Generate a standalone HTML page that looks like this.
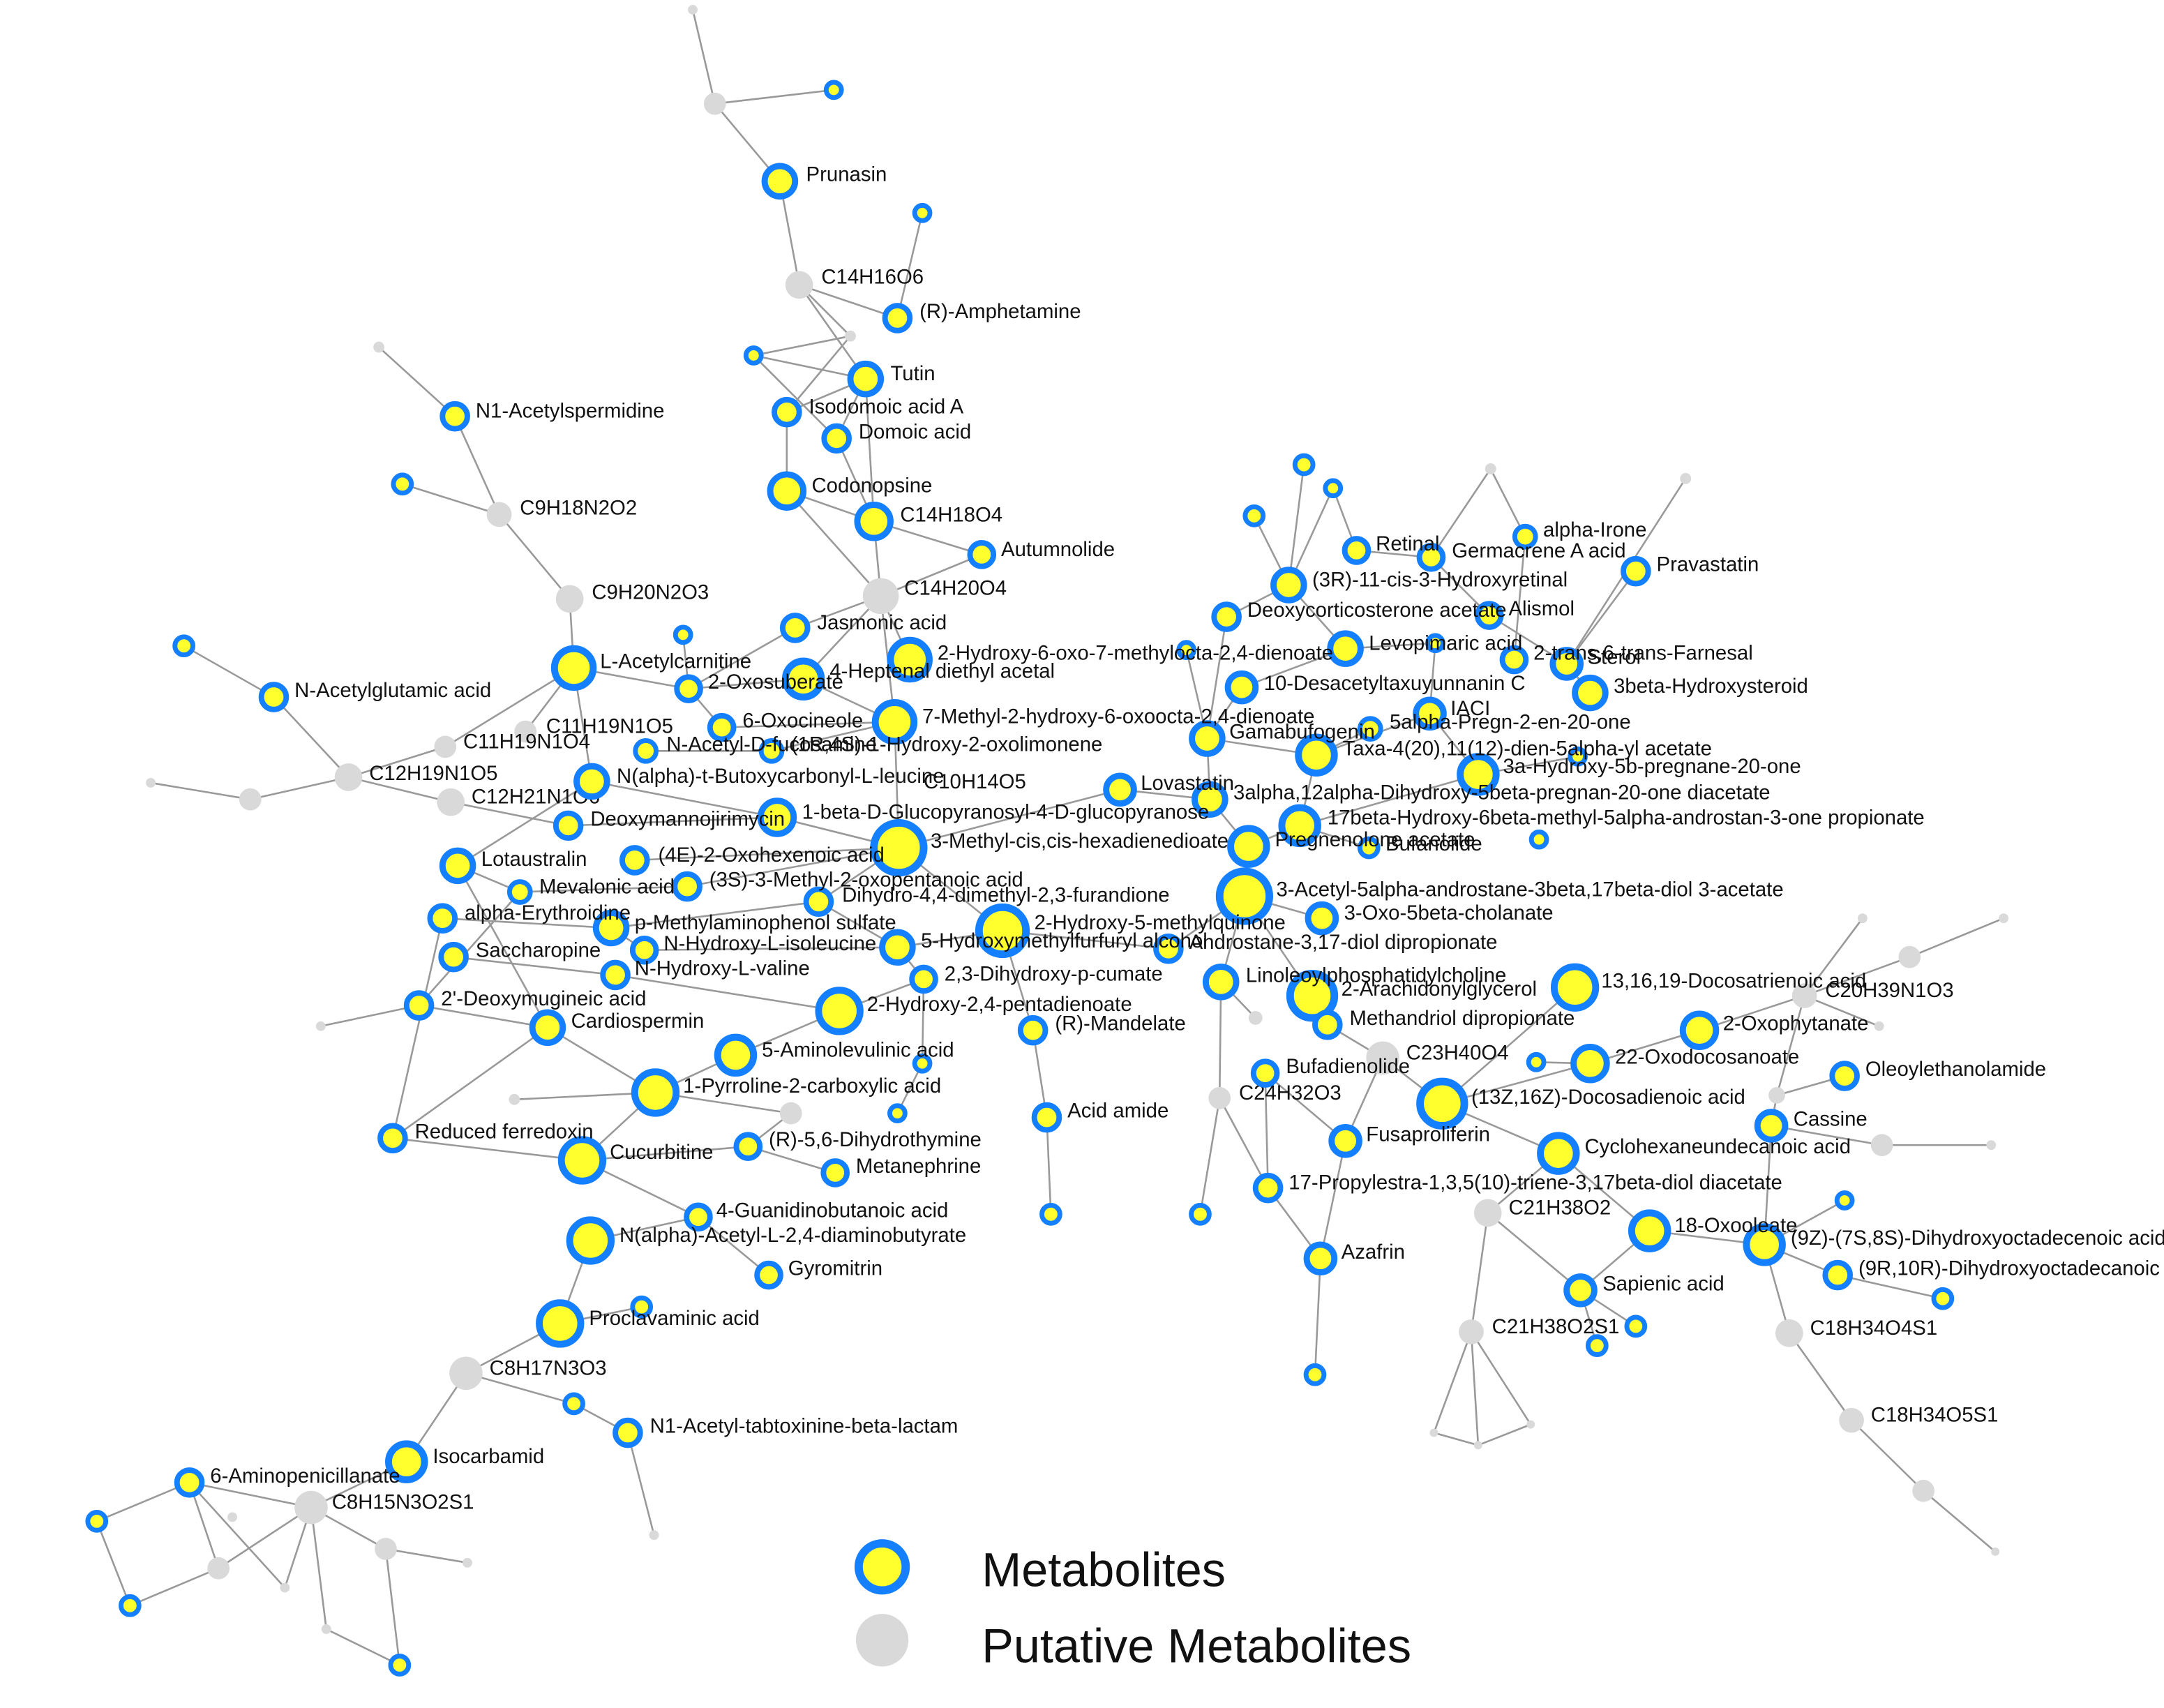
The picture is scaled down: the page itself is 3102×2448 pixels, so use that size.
<!DOCTYPE html>
<html><head><meta charset="utf-8"><style>
html,body{margin:0;padding:0;background:#fff;}
svg{display:block;}
text{font-family:"Liberation Sans",Arial,sans-serif;font-size:14.8px;fill:#111;}
.e line{stroke:#999;stroke-width:1.3;}
.g circle{fill:#d9d9d9;}
.y circle{fill:#ffff2e;stroke:#1580ff;}
</style></head><body>
<svg width="3102" height="2448" viewBox="0 0 1565 1235" xmlns="http://www.w3.org/2000/svg">
<g class="e">
<line x1="501" y1="7" x2="517" y2="75"/><line x1="517" y1="75" x2="564" y2="131"/><line x1="517" y1="75" x2="603" y2="65"/><line x1="564" y1="131" x2="578" y2="206"/><line x1="578" y1="206" x2="615" y2="243"/><line x1="578" y1="206" x2="626" y2="274"/><line x1="578" y1="206" x2="649" y2="230"/><line x1="615" y1="243" x2="545" y2="257"/><line x1="545" y1="257" x2="626" y2="274"/><line x1="545" y1="257" x2="605" y2="317"/><line x1="569" y1="298" x2="626" y2="274"/><line x1="615" y1="243" x2="569" y2="298"/><line x1="626" y1="274" x2="605" y2="317"/><line x1="569" y1="298" x2="569" y2="355"/><line x1="605" y1="317" x2="632" y2="377"/><line x1="569" y1="355" x2="632" y2="377"/><line x1="569" y1="355" x2="637" y2="431"/><line x1="632" y1="377" x2="637" y2="431"/><line x1="710" y1="401" x2="637" y2="431"/><line x1="632" y1="377" x2="710" y2="401"/><line x1="626" y1="274" x2="632" y2="377"/><line x1="667" y1="154" x2="649" y2="230"/><line x1="637" y1="431" x2="575" y2="454"/><line x1="637" y1="431" x2="658" y2="477"/><line x1="637" y1="431" x2="581" y2="491"/><line x1="637" y1="431" x2="647" y2="522"/><line x1="575" y1="454" x2="498" y2="498"/><line x1="274" y1="251" x2="329" y2="301"/><line x1="329" y1="301" x2="361" y2="372"/><line x1="291" y1="350" x2="361" y2="372"/><line x1="361" y1="372" x2="412" y2="433"/><line x1="412" y1="433" x2="415" y2="483"/><line x1="133" y1="467" x2="198" y2="504"/><line x1="198" y1="504" x2="252" y2="562"/><line x1="109" y1="566" x2="181" y2="578"/><line x1="181" y1="578" x2="252" y2="562"/><line x1="252" y1="562" x2="322" y2="540"/><line x1="252" y1="562" x2="326" y2="580"/><line x1="322" y1="540" x2="415" y2="483"/><line x1="380" y1="529" x2="415" y2="483"/><line x1="415" y1="483" x2="498" y2="498"/><line x1="415" y1="483" x2="428" y2="565"/><line x1="498" y1="498" x2="581" y2="491"/><line x1="494" y1="459" x2="498" y2="498"/><line x1="498" y1="498" x2="522" y2="526"/><line x1="581" y1="491" x2="647" y2="522"/><line x1="522" y1="526" x2="647" y2="522"/><line x1="467" y1="543" x2="558" y2="543"/><line x1="558" y1="543" x2="647" y2="522"/><line x1="428" y1="565" x2="562" y2="591"/><line x1="326" y1="580" x2="411" y2="597"/><line x1="411" y1="597" x2="562" y2="591"/><line x1="562" y1="591" x2="650" y2="613"/><line x1="647" y1="522" x2="650" y2="613"/><line x1="459" y1="622" x2="650" y2="613"/><line x1="497" y1="641" x2="650" y2="613"/><line x1="331" y1="626" x2="376" y2="645"/><line x1="376" y1="645" x2="497" y2="641"/><line x1="320" y1="664" x2="442" y2="671"/><line x1="442" y1="671" x2="592" y2="652"/><line x1="592" y1="652" x2="650" y2="613"/><line x1="592" y1="652" x2="649" y2="685"/><line x1="442" y1="671" x2="466" y2="687"/><line x1="466" y1="687" x2="649" y2="685"/><line x1="328" y1="692" x2="445" y2="705"/><line x1="445" y1="705" x2="607" y2="731"/><line x1="649" y1="685" x2="725" y2="673"/><line x1="725" y1="673" x2="650" y2="613"/><line x1="725" y1="673" x2="845" y2="686"/><line x1="668" y1="708" x2="649" y2="685"/><line x1="607" y1="731" x2="668" y2="708"/><line x1="607" y1="731" x2="532" y2="763"/><line x1="532" y1="763" x2="474" y2="790"/><line x1="474" y1="790" x2="421" y2="839"/><line x1="474" y1="790" x2="396" y2="743"/><line x1="396" y1="743" x2="303" y2="727"/><line x1="232" y1="742" x2="303" y2="727"/><line x1="396" y1="743" x2="284" y2="823"/><line x1="372" y1="795" x2="474" y2="790"/><line x1="284" y1="823" x2="421" y2="839"/><line x1="421" y1="839" x2="541" y2="829"/><line x1="474" y1="790" x2="572" y2="805"/><line x1="572" y1="805" x2="541" y2="829"/><line x1="541" y1="829" x2="604" y2="848"/><line x1="421" y1="839" x2="505" y2="880"/><line x1="505" y1="880" x2="427" y2="897"/><line x1="505" y1="880" x2="556" y2="922"/><line x1="427" y1="897" x2="405" y2="957"/><line x1="405" y1="957" x2="464" y2="945"/><line x1="405" y1="957" x2="337" y2="993"/><line x1="337" y1="993" x2="294" y2="1057"/><line x1="337" y1="993" x2="415" y2="1015"/><line x1="415" y1="1015" x2="454" y2="1036"/><line x1="454" y1="1036" x2="473" y2="1110"/><line x1="294" y1="1057" x2="225" y2="1090"/><line x1="225" y1="1090" x2="137" y2="1072"/><line x1="137" y1="1072" x2="70" y2="1100"/><line x1="70" y1="1100" x2="94" y2="1161"/><line x1="94" y1="1161" x2="158" y2="1134"/><line x1="158" y1="1134" x2="225" y2="1090"/><line x1="225" y1="1090" x2="279" y2="1120"/><line x1="279" y1="1120" x2="289" y2="1204"/><line x1="279" y1="1120" x2="338" y2="1130"/><line x1="225" y1="1090" x2="236" y2="1178"/><line x1="236" y1="1178" x2="289" y2="1204"/><line x1="137" y1="1072" x2="206" y2="1148"/><line x1="206" y1="1148" x2="225" y2="1090"/><line x1="137" y1="1072" x2="158" y2="1134"/><line x1="747" y1="745" x2="725" y2="673"/><line x1="747" y1="745" x2="757" y2="808"/><line x1="757" y1="808" x2="760" y2="878"/><line x1="667" y1="769" x2="668" y2="708"/><line x1="649" y1="805" x2="667" y2="769"/><line x1="331" y1="626" x2="396" y2="743"/><line x1="376" y1="645" x2="303" y2="727"/><line x1="320" y1="664" x2="284" y2="823"/><line x1="331" y1="626" x2="428" y2="565"/><line x1="810" y1="571" x2="650" y2="613"/>
<line x1="943" y1="336" x2="932" y2="423"/><line x1="964" y1="353" x2="932" y2="423"/><line x1="964" y1="353" x2="981" y2="398"/><line x1="907" y1="373" x2="932" y2="423"/><line x1="932" y1="423" x2="887" y2="446"/><line x1="932" y1="423" x2="973" y2="469"/><line x1="1078" y1="339" x2="1035" y2="403"/><line x1="1078" y1="339" x2="1103" y2="388"/><line x1="981" y1="398" x2="1035" y2="403"/><line x1="1035" y1="403" x2="1077" y2="445"/><line x1="1103" y1="388" x2="1095" y2="477"/><line x1="1219" y1="346" x2="1133" y2="480"/><line x1="1183" y1="413" x2="1133" y2="480"/><line x1="1077" y1="445" x2="1133" y2="480"/><line x1="1133" y1="480" x2="1150" y2="501"/><line x1="973" y1="469" x2="1038" y2="465"/><line x1="1038" y1="465" x2="1034" y2="516"/><line x1="973" y1="469" x2="898" y2="497"/><line x1="898" y1="497" x2="873" y2="534"/><line x1="858" y1="470" x2="873" y2="534"/><line x1="887" y1="446" x2="873" y2="534"/><line x1="873" y1="534" x2="875" y2="578"/><line x1="873" y1="534" x2="952" y2="546"/><line x1="952" y1="546" x2="1034" y2="516"/><line x1="991" y1="527" x2="952" y2="546"/><line x1="1034" y1="516" x2="1069" y2="560"/><line x1="1069" y1="560" x2="1141" y2="547"/><line x1="952" y1="546" x2="940" y2="597"/><line x1="810" y1="571" x2="875" y2="578"/><line x1="875" y1="578" x2="903" y2="612"/><line x1="940" y1="597" x2="903" y2="612"/><line x1="903" y1="612" x2="900" y2="648"/><line x1="940" y1="597" x2="990" y2="613"/><line x1="1069" y1="560" x2="940" y2="597"/><line x1="900" y1="648" x2="956" y2="664"/><line x1="900" y1="648" x2="845" y2="686"/><line x1="900" y1="648" x2="883" y2="710"/><line x1="883" y1="710" x2="908" y2="736"/><line x1="883" y1="710" x2="882" y2="794"/><line x1="949" y1="720" x2="900" y2="648"/><line x1="949" y1="720" x2="960" y2="741"/><line x1="960" y1="741" x2="1000" y2="765"/><line x1="1000" y1="765" x2="1043" y2="798"/><line x1="1043" y1="798" x2="1139" y2="714"/><line x1="1043" y1="798" x2="1127" y2="834"/><line x1="1043" y1="798" x2="1150" y2="769"/><line x1="1150" y1="769" x2="1229" y2="745"/><line x1="1229" y1="745" x2="1305" y2="720"/><line x1="1305" y1="720" x2="1381" y2="692"/><line x1="1381" y1="692" x2="1449" y2="664"/><line x1="1305" y1="720" x2="1347" y2="664"/><line x1="1305" y1="720" x2="1359" y2="742"/><line x1="1305" y1="720" x2="1285" y2="792"/><line x1="1285" y1="792" x2="1334" y2="778"/><line x1="1285" y1="792" x2="1281" y2="814"/><line x1="1281" y1="814" x2="1361" y2="828"/><line x1="1361" y1="828" x2="1440" y2="828"/><line x1="1127" y1="834" x2="1193" y2="890"/><line x1="1193" y1="890" x2="1276" y2="900"/><line x1="1276" y1="900" x2="1329" y2="922"/><line x1="1329" y1="922" x2="1405" y2="939"/><line x1="1276" y1="900" x2="1334" y2="868"/><line x1="1276" y1="900" x2="1281" y2="814"/><line x1="1276" y1="900" x2="1294" y2="964"/><line x1="1294" y1="964" x2="1339" y2="1027"/><line x1="1339" y1="1027" x2="1391" y2="1078"/><line x1="1391" y1="1078" x2="1443" y2="1122"/><line x1="1193" y1="890" x2="1143" y2="933"/><line x1="1076" y1="877" x2="1143" y2="933"/><line x1="1076" y1="877" x2="1127" y2="834"/><line x1="1076" y1="877" x2="1064" y2="963"/><line x1="1064" y1="963" x2="1037" y2="1036"/><line x1="1064" y1="963" x2="1069" y2="1045"/><line x1="1064" y1="963" x2="1107" y2="1030"/><line x1="1037" y1="1036" x2="1069" y2="1045"/><line x1="1069" y1="1045" x2="1107" y2="1030"/><line x1="1143" y1="933" x2="1183" y2="959"/><line x1="1143" y1="933" x2="1155" y2="973"/><line x1="1111" y1="768" x2="1150" y2="769"/><line x1="915" y1="776" x2="973" y2="825"/><line x1="882" y1="794" x2="868" y2="878"/><line x1="882" y1="794" x2="917" y2="859"/><line x1="917" y1="859" x2="955" y2="910"/><line x1="973" y1="825" x2="955" y2="910"/><line x1="955" y1="910" x2="951" y2="994"/><line x1="915" y1="776" x2="917" y2="859"/><line x1="1000" y1="765" x2="973" y2="825"/>
</g>
<g class="g">
<circle cx="501" cy="7" r="3.5"/><circle cx="517" cy="75" r="8"/><circle cx="578" cy="206" r="10"/><circle cx="615" cy="243" r="4"/><circle cx="274" cy="251" r="4"/><circle cx="361" cy="372" r="9"/><circle cx="412" cy="433" r="10"/><circle cx="637" cy="431" r="13"/><circle cx="322" cy="540" r="8"/><circle cx="380" cy="529" r="8"/><circle cx="252" cy="562" r="10"/><circle cx="181" cy="578" r="8"/><circle cx="109" cy="566" r="3.5"/><circle cx="326" cy="580" r="10"/><circle cx="1078" cy="339" r="4"/><circle cx="1219" cy="346" r="4"/><circle cx="1000" cy="765" r="12"/><circle cx="908" cy="736" r="5"/><circle cx="882" cy="794" r="8"/><circle cx="1076" cy="877" r="10"/><circle cx="1064" cy="963" r="9"/><circle cx="1037" cy="1036" r="3"/><circle cx="1069" cy="1045" r="3"/><circle cx="1107" cy="1030" r="3"/><circle cx="1294" cy="964" r="10"/><circle cx="1339" cy="1027" r="9"/><circle cx="1391" cy="1078" r="8"/><circle cx="1443" cy="1122" r="3"/><circle cx="1305" cy="720" r="9"/><circle cx="1381" cy="692" r="8"/><circle cx="1347" cy="664" r="3.5"/><circle cx="1449" cy="664" r="3.5"/><circle cx="1359" cy="742" r="3.5"/><circle cx="1285" cy="792" r="6"/><circle cx="1361" cy="828" r="8"/><circle cx="1440" cy="828" r="3.5"/><circle cx="572" cy="805" r="8"/><circle cx="372" cy="795" r="4"/><circle cx="232" cy="742" r="3.5"/><circle cx="337" cy="993" r="12"/><circle cx="225" cy="1090" r="12"/><circle cx="279" cy="1120" r="8"/><circle cx="158" cy="1134" r="8"/><circle cx="168" cy="1097" r="3.5"/><circle cx="338" cy="1130" r="3.5"/><circle cx="473" cy="1110" r="3.5"/><circle cx="236" cy="1178" r="3.5"/><circle cx="206" cy="1148" r="3.5"/>
</g>
<g>
<text x="594" y="205">C14H16O6</text><text x="376" y="372">C9H18N2O2</text><text x="428" y="433">C9H20N2O3</text><text x="654" y="430">C14H20O4</text><text x="395" y="530">C11H19N1O5</text><text x="335" y="541">C11H19N1O4</text><text x="267" y="564">C12H19N1O5</text><text x="341" y="581">C12H21N1O6</text><text x="668" y="570">C10H14O5</text><text x="1017" y="766">C23H40O4</text><text x="896" y="795">C24H32O3</text><text x="1091" y="878">C21H38O2</text><text x="1079" y="964">C21H38O2S1</text><text x="1309" y="965">C18H34O4S1</text><text x="1353" y="1028">C18H34O5S1</text><text x="1320" y="721">C20H39N1O3</text><text x="354" y="994">C8H17N3O3</text><text x="240" y="1091">C8H15N3O2S1</text>
</g>
<g class="y">
<circle cx="603" cy="65" r="5.5" stroke-width="3.5"/>
<circle cx="564" cy="131" r="11" stroke-width="4.5"/>
<circle cx="667" cy="154" r="5.5" stroke-width="3.5"/>
<circle cx="649" cy="230" r="9" stroke-width="4"/>
<circle cx="545" cy="257" r="5.5" stroke-width="3.5"/>
<circle cx="626" cy="274" r="11" stroke-width="4.5"/>
<circle cx="569" cy="298" r="9" stroke-width="4"/>
<circle cx="605" cy="317" r="9" stroke-width="4"/>
<circle cx="569" cy="355" r="12" stroke-width="4.5"/>
<circle cx="632" cy="377" r="12" stroke-width="4.5"/>
<circle cx="710" cy="401" r="8.5" stroke-width="4"/>
<circle cx="575" cy="454" r="9" stroke-width="4"/>
<circle cx="494" cy="459" r="5.5" stroke-width="3.5"/>
<circle cx="658" cy="477" r="14" stroke-width="5"/>
<circle cx="581" cy="491" r="13" stroke-width="5"/>
<circle cx="498" cy="498" r="8.5" stroke-width="4"/>
<circle cx="415" cy="483" r="14" stroke-width="5"/>
<circle cx="329" cy="301" r="9" stroke-width="4"/>
<circle cx="291" cy="350" r="6.5" stroke-width="3.5"/>
<circle cx="133" cy="467" r="6.5" stroke-width="3.5"/>
<circle cx="198" cy="504" r="9" stroke-width="4"/>
<circle cx="647" cy="522" r="14" stroke-width="5"/>
<circle cx="522" cy="526" r="8.5" stroke-width="4"/>
<circle cx="467" cy="543" r="7.5" stroke-width="3.5"/>
<circle cx="558" cy="543" r="7.5" stroke-width="3.5"/>
<circle cx="428" cy="565" r="11" stroke-width="4.5"/>
<circle cx="562" cy="591" r="12" stroke-width="4.5"/>
<circle cx="411" cy="597" r="9" stroke-width="4"/>
<circle cx="650" cy="613" r="18" stroke-width="5.5"/>
<circle cx="459" cy="622" r="9" stroke-width="4"/>
<circle cx="331" cy="626" r="11" stroke-width="4.5"/>
<circle cx="497" cy="641" r="9" stroke-width="4"/>
<circle cx="376" cy="645" r="7.5" stroke-width="3.5"/>
<circle cx="592" cy="652" r="9" stroke-width="4"/>
<circle cx="320" cy="664" r="9" stroke-width="4"/>
<circle cx="442" cy="671" r="11" stroke-width="4.5"/>
<circle cx="725" cy="673" r="17" stroke-width="5.5"/>
<circle cx="466" cy="687" r="8.5" stroke-width="4"/>
<circle cx="649" cy="685" r="11" stroke-width="4.5"/>
<circle cx="328" cy="692" r="9" stroke-width="4"/>
<circle cx="445" cy="705" r="9" stroke-width="4"/>
<circle cx="668" cy="708" r="8.5" stroke-width="4"/>
<circle cx="303" cy="727" r="9" stroke-width="4"/>
<circle cx="607" cy="731" r="15" stroke-width="5"/>
<circle cx="396" cy="743" r="11" stroke-width="4.5"/>
<circle cx="747" cy="745" r="9" stroke-width="4"/>
<circle cx="532" cy="763" r="13" stroke-width="5"/>
<circle cx="667" cy="769" r="5.5" stroke-width="3.5"/>
<circle cx="474" cy="790" r="15" stroke-width="5"/>
<circle cx="649" cy="805" r="5.5" stroke-width="3.5"/>
<circle cx="757" cy="808" r="9" stroke-width="4"/>
<circle cx="284" cy="823" r="9" stroke-width="4"/>
<circle cx="421" cy="839" r="15" stroke-width="5"/>
<circle cx="541" cy="829" r="8.5" stroke-width="4"/>
<circle cx="604" cy="848" r="8.5" stroke-width="4"/>
<circle cx="760" cy="878" r="6.5" stroke-width="3.5"/>
<circle cx="505" cy="880" r="8.5" stroke-width="4"/>
<circle cx="427" cy="897" r="15" stroke-width="5"/>
<circle cx="556" cy="922" r="8.5" stroke-width="4"/>
<circle cx="464" cy="945" r="6.5" stroke-width="3.5"/>
<circle cx="405" cy="957" r="15" stroke-width="5"/>
<circle cx="415" cy="1015" r="6.5" stroke-width="3.5"/>
<circle cx="454" cy="1036" r="9" stroke-width="4"/>
<circle cx="294" cy="1057" r="13" stroke-width="5"/>
<circle cx="137" cy="1072" r="9" stroke-width="4"/>
<circle cx="70" cy="1100" r="6.5" stroke-width="3.5"/>
<circle cx="94" cy="1161" r="6.5" stroke-width="3.5"/>
<circle cx="289" cy="1204" r="6.5" stroke-width="3.5"/>
<circle cx="943" cy="336" r="6.5" stroke-width="3.5"/>
<circle cx="964" cy="353" r="5.5" stroke-width="3.5"/>
<circle cx="907" cy="373" r="6.5" stroke-width="3.5"/>
<circle cx="981" cy="398" r="8.5" stroke-width="4"/>
<circle cx="1035" cy="403" r="8.5" stroke-width="4"/>
<circle cx="1103" cy="388" r="7.5" stroke-width="3.5"/>
<circle cx="1183" cy="413" r="9" stroke-width="4"/>
<circle cx="932" cy="423" r="11" stroke-width="4.5"/>
<circle cx="887" cy="446" r="9" stroke-width="4"/>
<circle cx="1077" cy="445" r="8.5" stroke-width="4"/>
<circle cx="973" cy="469" r="11" stroke-width="4.5"/>
<circle cx="1038" cy="465" r="5.5" stroke-width="3.5"/>
<circle cx="858" cy="470" r="5.5" stroke-width="3.5"/>
<circle cx="1095" cy="477" r="8.5" stroke-width="4"/>
<circle cx="1133" cy="480" r="10" stroke-width="4.5"/>
<circle cx="1150" cy="501" r="11" stroke-width="4.5"/>
<circle cx="898" cy="497" r="10" stroke-width="4.5"/>
<circle cx="1034" cy="516" r="10" stroke-width="4.5"/>
<circle cx="991" cy="527" r="7.5" stroke-width="3.5"/>
<circle cx="873" cy="534" r="11" stroke-width="4.5"/>
<circle cx="952" cy="546" r="13" stroke-width="5"/>
<circle cx="1141" cy="547" r="5.5" stroke-width="3.5"/>
<circle cx="1069" cy="560" r="13" stroke-width="5"/>
<circle cx="810" cy="571" r="10" stroke-width="4.5"/>
<circle cx="875" cy="578" r="11" stroke-width="4.5"/>
<circle cx="940" cy="597" r="13" stroke-width="5"/>
<circle cx="903" cy="612" r="13" stroke-width="5"/>
<circle cx="990" cy="613" r="6.5" stroke-width="3.5"/>
<circle cx="1113" cy="607" r="5.5" stroke-width="3.5"/>
<circle cx="900" cy="648" r="18" stroke-width="5.5"/>
<circle cx="956" cy="664" r="10" stroke-width="4.5"/>
<circle cx="845" cy="686" r="9" stroke-width="4"/>
<circle cx="883" cy="710" r="11" stroke-width="4.5"/>
<circle cx="949" cy="720" r="16" stroke-width="5.5"/>
<circle cx="960" cy="741" r="9" stroke-width="4"/>
<circle cx="1139" cy="714" r="15" stroke-width="5"/>
<circle cx="1229" cy="745" r="12" stroke-width="4.5"/>
<circle cx="1111" cy="768" r="5.5" stroke-width="3.5"/>
<circle cx="1150" cy="769" r="12" stroke-width="4.5"/>
<circle cx="1334" cy="778" r="9" stroke-width="4"/>
<circle cx="915" cy="776" r="8.5" stroke-width="4"/>
<circle cx="1043" cy="798" r="16" stroke-width="5.5"/>
<circle cx="1281" cy="814" r="10" stroke-width="4.5"/>
<circle cx="973" cy="825" r="10" stroke-width="4.5"/>
<circle cx="1127" cy="834" r="13" stroke-width="5"/>
<circle cx="868" cy="878" r="6.5" stroke-width="3.5"/>
<circle cx="917" cy="859" r="9" stroke-width="4"/>
<circle cx="1334" cy="868" r="5.5" stroke-width="3.5"/>
<circle cx="1193" cy="890" r="13" stroke-width="5"/>
<circle cx="1276" cy="900" r="13" stroke-width="5"/>
<circle cx="1329" cy="922" r="9" stroke-width="4"/>
<circle cx="955" cy="910" r="10" stroke-width="4.5"/>
<circle cx="1143" cy="933" r="10" stroke-width="4.5"/>
<circle cx="1405" cy="939" r="6.5" stroke-width="3.5"/>
<circle cx="1183" cy="959" r="6.5" stroke-width="3.5"/>
<circle cx="1155" cy="973" r="6.5" stroke-width="3.5"/>
<circle cx="951" cy="994" r="6.5" stroke-width="3.5"/>
<circle cx="638" cy="1133" r="17" stroke-width="6"/>
</g>
<circle cx="638" cy="1186" r="19" fill="#d9d9d9"/>
<g>
<text x="583" y="131">Prunasin</text><text x="665" y="230">(R)-Amphetamine</text><text x="644" y="275">Tutin</text><text x="585" y="299">Isodomoic acid A</text><text x="621" y="317">Domoic acid</text><text x="587" y="356">Codonopsine</text><text x="651" y="377">C14H18O4</text><text x="724" y="402">Autumnolide</text><text x="591" y="455">Jasmonic acid</text><text x="678" y="477">2-Hydroxy-6-oxo-7-methylocta-2,4-dienoate</text><text x="600" y="490">4-Heptenal diethyl acetal</text><text x="512" y="498">2-Oxosuberate</text><text x="434" y="483">L-Acetylcarnitine</text><text x="344" y="302">N1-Acetylspermidine</text><text x="213" y="504">N-Acetylglutamic acid</text><text x="667" y="523">7-Methyl-2-hydroxy-6-oxoocta-2,4-dienoate</text><text x="537" y="526">6-Oxocineole</text><text x="482" y="543">N-Acetyl-D-fucosamine</text><text x="572" y="543">(1R,4S)-1-Hydroxy-2-oxolimonene</text><text x="446" y="566">N(alpha)-t-Butoxycarbonyl-L-leucine</text><text x="580" y="592">1-beta-D-Glucopyranosyl-4-D-glucopyranose</text><text x="427" y="597">Deoxymannojirimycin</text><text x="673" y="613">3-Methyl-cis,cis-hexadienedioate</text><text x="476" y="623">(4E)-2-Oxohexenoic acid</text><text x="348" y="626">Lotaustralin</text><text x="513" y="641">(3S)-3-Methyl-2-oxopentanoic acid</text><text x="390" y="646">Mevalonic acid</text><text x="609" y="652">Dihydro-4,4-dimethyl-2,3-furandione</text><text x="336" y="665">alpha-Erythroidine</text><text x="459" y="672">p-Methylaminophenol sulfate</text><text x="748" y="672">2-Hydroxy-5-methylquinone</text><text x="480" y="687">N-Hydroxy-L-isoleucine</text><text x="666" y="685">5-Hydroxymethylfurfuryl alcohol</text><text x="344" y="692">Saccharopine</text><text x="459" y="705">N-Hydroxy-L-valine</text><text x="683" y="709">2,3-Dihydroxy-p-cumate</text><text x="319" y="727">2'-Deoxymugineic acid</text><text x="627" y="731">2-Hydroxy-2,4-pentadienoate</text><text x="413" y="743">Cardiospermin</text><text x="763" y="745">(R)-Mandelate</text><text x="551" y="764">5-Aminolevulinic acid</text><text x="494" y="790">1-Pyrroline-2-carboxylic acid</text><text x="772" y="808">Acid amide</text><text x="300" y="823">Reduced ferredoxin</text><text x="441" y="838">Cucurbitine</text><text x="556" y="829">(R)-5,6-Dihydrothymine</text><text x="619" y="848">Metanephrine</text><text x="518" y="880">4-Guanidinobutanoic acid</text><text x="448" y="898">N(alpha)-Acetyl-L-2,4-diaminobutyrate</text><text x="570" y="922">Gyromitrin</text><text x="426" y="958">Proclavaminic acid</text><text x="470" y="1036">N1-Acetyl-tabtoxinine-beta-lactam</text><text x="313" y="1058">Isocarbamid</text><text x="152" y="1072">6-Aminopenicillanate</text>
<text x="995" y="398">Retinal</text><text x="1050" y="403">Germacrene A acid</text><text x="1116" y="388">alpha-Irone</text><text x="1198" y="413">Pravastatin</text><text x="949" y="424">(3R)-11-cis-3-Hydroxyretinal</text><text x="902" y="446">Deoxycorticosterone acetate</text><text x="1091" y="445">Alismol</text><text x="990" y="470">Levopimaric acid</text><text x="1109" y="477">2-trans,6-trans-Farnesal</text><text x="1148" y="480">Sterol</text><text x="1167" y="501">3beta-Hydroxysteroid</text><text x="914" y="499">10-Desacetyltaxuyunnanin C</text><text x="1049" y="517">IACI</text><text x="1005" y="527">5alpha-Pregn-2-en-20-one</text><text x="889" y="534">Gamabufogenin</text><text x="971" y="546">Taxa-4(20),11(12)-dien-5alpha-yl acetate</text><text x="1087" y="559">3a-Hydroxy-5b-pregnane-20-one</text><text x="825" y="571">Lovastatin</text><text x="892" y="578">3alpha,12alpha-Dihydroxy-5beta-pregnan-20-one diacetate</text><text x="960" y="596">17beta-Hydroxy-6beta-methyl-5alpha-androstan-3-one propionate</text><text x="922" y="612">Pregnenolone acetate</text><text x="1002" y="615">Bufanolide</text><text x="923" y="648">3-Acetyl-5alpha-androstane-3beta,17beta-diol 3-acetate</text><text x="972" y="665">3-Oxo-5beta-cholanate</text><text x="860" y="686">Androstane-3,17-diol dipropionate</text><text x="901" y="710">Linoleoylphosphatidylcholine</text><text x="970" y="720">2-Arachidonylglycerol</text><text x="976" y="741">Methandriol dipropionate</text><text x="1158" y="714">13,16,19-Docosatrienoic acid</text><text x="1246" y="745">2-Oxophytanate</text><text x="1168" y="769">22-Oxodocosanoate</text><text x="1349" y="778">Oleoylethanolamide</text><text x="930" y="776">Bufadienolide</text><text x="1064" y="798">(13Z,16Z)-Docosadienoic acid</text><text x="1297" y="814">Cassine</text><text x="988" y="825">Fusaproliferin</text><text x="1146" y="834">Cyclohexaneundecanoic acid</text><text x="932" y="860">17-Propylestra-1,3,5(10)-triene-3,17beta-diol diacetate</text><text x="1211" y="891">18-Oxooleate</text><text x="1295" y="900">(9Z)-(7S,8S)-Dihydroxyoctadecenoic acid</text><text x="1344" y="922">(9R,10R)-Dihydroxyoctadecanoic acid</text><text x="970" y="910">Azafrin</text><text x="1159" y="933">Sapienic acid</text>
<text x="710" y="1147" style="font-size:34.5px">Metabolites</text>
<text x="710" y="1202" style="font-size:34.5px">Putative Metabolites</text>
</g>
</svg>
</body></html>
